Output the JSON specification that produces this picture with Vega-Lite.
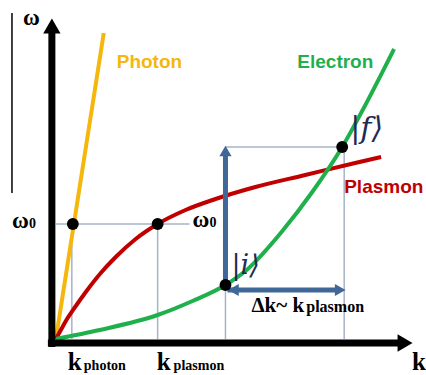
{
  "$schema": "https://vega.github.io/schema/vega-lite/v6.json",
  "width": 426,
  "height": 375,
  "autosize": {"type": "fit", "contains": "padding"},
  "padding": 0,
  "background": "white",
  "config": {"view": {"stroke": null}},
  "datasets": {
    "curves": [
      {"series": "Photon", "k": 0, "w": 0},
      {"series": "Photon", "k": 48, "w": 306},
      {"series": "Plasmon", "k": 0, "w": 0},
      {"series": "Plasmon", "k": 5, "w": 9},
      {"series": "Plasmon", "k": 10, "w": 18},
      {"series": "Plasmon", "k": 20, "w": 33},
      {"series": "Plasmon", "k": 30, "w": 47},
      {"series": "Plasmon", "k": 45, "w": 66},
      {"series": "Plasmon", "k": 60, "w": 82},
      {"series": "Plasmon", "k": 80, "w": 100},
      {"series": "Plasmon", "k": 102, "w": 115},
      {"series": "Plasmon", "k": 130, "w": 129},
      {"series": "Plasmon", "k": 160, "w": 140},
      {"series": "Plasmon", "k": 200, "w": 152},
      {"series": "Plasmon", "k": 250, "w": 164},
      {"series": "Plasmon", "k": 300, "w": 176},
      {"series": "Plasmon", "k": 326, "w": 182},
      {"series": "Electron", "k": 0, "w": 0},
      {"series": "Electron", "k": 44, "w": 9},
      {"series": "Electron", "k": 102, "w": 24},
      {"series": "Electron", "k": 137, "w": 38},
      {"series": "Electron", "k": 170, "w": 54},
      {"series": "Electron", "k": 190, "w": 68},
      {"series": "Electron", "k": 227, "w": 108},
      {"series": "Electron", "k": 257, "w": 147},
      {"series": "Electron", "k": 287, "w": 192},
      {"series": "Electron", "k": 307, "w": 228},
      {"series": "Electron", "k": 339, "w": 290}
    ],
    "guides": [
      {"k": 0, "w": 115, "k2": 134, "w2": 115},
      {"k": 16, "w": 115, "k2": 16, "w2": 0},
      {"k": 102, "w": 115, "k2": 102, "w2": 0},
      {"k": 170, "w": 49, "k2": 170, "w2": 0},
      {"k": 289, "w": 192, "k2": 289, "w2": 0},
      {"k": 170, "w": 192, "k2": 287, "w2": 192}
    ],
    "axes": [
      {"k": -4, "w": -8, "k2": -4, "w2": 310},
      {"k": -8, "w": -4, "k2": 343, "w2": -4}
    ],
    "axisHeads": [
      {"k": -4, "w": 313, "shape": "triangle-up"},
      {"k": 350, "w": -4, "shape": "triangle-right"}
    ],
    "blue": [
      {"k": 170, "w": 54, "k2": 170, "w2": 185},
      {"k": 172, "w": 49, "k2": 284, "w2": 49}
    ],
    "blueHeads": [
      {"k": 170, "w": 188, "shape": "triangle-up"},
      {"k": 285, "w": 49, "shape": "triangle-right"},
      {"k": 178, "w": 49, "shape": "triangle-left"}
    ],
    "dots": [
      {"k": 17, "w": 115},
      {"k": 102, "w": 115},
      {"k": 170, "w": 54},
      {"k": 287, "w": 192}
    ],
    "edge": [
      {"k": -44, "w": 146, "k2": -44, "w2": 326}
    ],
    "names": [
      {"series": "Photon", "label": "Photon", "k": 61, "w": 271},
      {"series": "Electron", "label": "Electron", "k": 242, "w": 271},
      {"series": "Plasmon", "label": "Plasmon", "k": 289, "w": 146}
    ],
    "omegas": [
      {"label": "ω", "k": -33, "w": 314},
      {"label": "ω", "k": -44, "w": 111},
      {"label": "ω", "k": 137, "w": 112}
    ],
    "bigK": [
      {"label": "k", "k": 12, "w": -31},
      {"label": "k", "k": 101, "w": -31},
      {"label": "k", "k": 357, "w": -31}
    ],
    "delta": [
      {"label": "Δk~ k", "k": 196, "w": 27}
    ],
    "smallSerif": [
      {"label": "0", "k": -27, "w": 111},
      {"label": "0", "k": 154, "w": 112},
      {"label": "photon", "k": 28, "w": -31},
      {"label": "plasmon", "k": 118, "w": -31}
    ],
    "deltaSub": [
      {"label": "plasmon", "k": 251, "w": 27}
    ],
    "states": [
      {"label": "|f⟩", "k": 295, "w": 201, "size": "f"},
      {"label": "|i⟩", "k": 176, "w": 65, "size": "i"}
    ]
  },
  "encoding": {
    "x": {"field": "k", "type": "quantitative", "scale": {"domain": [-56, 370], "nice": false, "zero": false}, "axis": null},
    "y": {"field": "w", "type": "quantitative", "scale": {"domain": [-36, 339], "nice": false, "zero": false}, "axis": null}
  },
  "layer": [
    {
      "data": {"name": "guides"},
      "mark": {"type": "rule", "color": "#a5b3c9", "strokeWidth": 1.5},
      "encoding": {"x2": {"field": "k2"}, "y2": {"field": "w2"}}
    },
    {
      "data": {"name": "curves"},
      "mark": {"type": "line", "interpolate": "monotone", "strokeWidth": 4},
      "encoding": {
        "color": {"field": "series", "type": "nominal", "legend": null,
          "scale": {"domain": ["Photon", "Plasmon", "Electron"], "range": ["#f5b70c", "#c00000", "#1fb04c"]}},
        "order": {"field": "k", "type": "quantitative"}
      }
    },
    {
      "data": {"name": "axes"},
      "mark": {"type": "rule", "color": "black", "strokeWidth": 7},
      "encoding": {"x2": {"field": "k2"}, "y2": {"field": "w2"}}
    },
    {
      "data": {"name": "axisHeads"},
      "mark": {"type": "point", "filled": true, "color": "black", "opacity": 1, "size": 300},
      "encoding": {"shape": {"field": "shape", "type": "nominal", "scale": null}}
    },
    {
      "data": {"name": "blue"},
      "mark": {"type": "rule", "color": "#3f6797", "strokeWidth": 5},
      "encoding": {"x2": {"field": "k2"}, "y2": {"field": "w2"}}
    },
    {
      "data": {"name": "blueHeads"},
      "mark": {"type": "point", "filled": true, "color": "#3f6797", "opacity": 1, "size": 150},
      "encoding": {"shape": {"field": "shape", "type": "nominal", "scale": null}}
    },
    {
      "data": {"name": "dots"},
      "mark": {"type": "circle", "color": "black", "opacity": 1, "size": 140}
    },
    {
      "data": {"name": "edge"},
      "mark": {"type": "rule", "color": "black", "strokeWidth": 1.5},
      "encoding": {"x2": {"field": "k2"}, "y2": {"field": "w2"}}
    },
    {
      "data": {"name": "names"},
      "mark": {"type": "text", "align": "left", "baseline": "alphabetic", "font": "Liberation Sans", "fontWeight": "bold", "fontSize": 19},
      "encoding": {
        "text": {"field": "label"},
        "color": {"field": "series", "type": "nominal", "legend": null,
          "scale": {"domain": ["Photon", "Plasmon", "Electron"], "range": ["#f2c232", "#c0141c", "#22b34e"]}}
      }
    },
    {
      "data": {"name": "omegas"},
      "mark": {"type": "text", "align": "left", "baseline": "alphabetic", "font": "Liberation Serif", "fontWeight": "bold", "fontSize": 23, "color": "black"},
      "encoding": {"text": {"field": "label"}}
    },
    {
      "data": {"name": "bigK"},
      "mark": {"type": "text", "align": "left", "baseline": "alphabetic", "font": "Liberation Serif", "fontWeight": "bold", "fontSize": 25, "color": "black"},
      "encoding": {"text": {"field": "label"}}
    },
    {
      "data": {"name": "delta"},
      "mark": {"type": "text", "align": "left", "baseline": "alphabetic", "font": "Liberation Serif", "fontWeight": "bold", "fontSize": 21, "color": "black"},
      "encoding": {"text": {"field": "label"}}
    },
    {
      "data": {"name": "smallSerif"},
      "mark": {"type": "text", "align": "left", "baseline": "alphabetic", "font": "Liberation Serif", "fontWeight": "bold", "fontSize": 14, "color": "black"},
      "encoding": {"text": {"field": "label"}}
    },
    {
      "data": {"name": "deltaSub"},
      "mark": {"type": "text", "align": "left", "baseline": "alphabetic", "font": "Liberation Serif", "fontWeight": "bold", "fontSize": 16, "color": "black"},
      "encoding": {"text": {"field": "label"}}
    },
    {
      "data": {"name": "states"},
      "mark": {"type": "text", "align": "left", "baseline": "alphabetic", "font": "DejaVu Serif", "fontStyle": "italic", "color": "#1e2c55"},
      "encoding": {
        "text": {"field": "label"},
        "size": {"field": "size", "type": "nominal", "legend": null, "scale": {"domain": ["f", "i"], "range": [30, 27]}}
      }
    }
  ]
}
